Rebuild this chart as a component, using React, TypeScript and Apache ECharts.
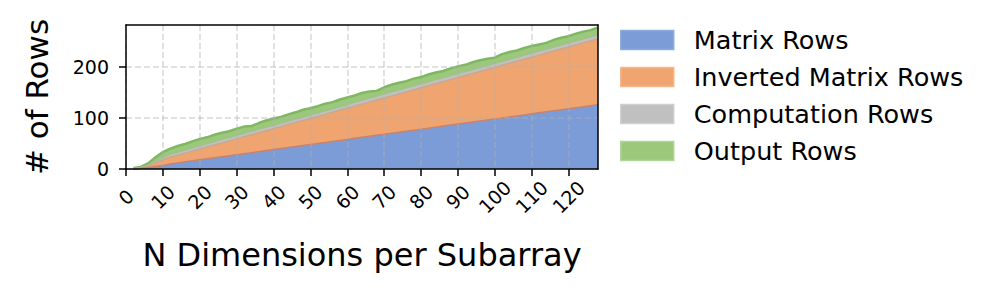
import React, { useEffect, useRef } from "react";
import * as echarts from "echarts";

// N dimensions (x) at which the stack is sampled
const xValues = [
  2, 4, 6, 8, 10, 12, 14, 16, 18, 20, 22, 24, 26, 28, 30, 32, 34, 36, 38, 40,
  42, 44, 46, 48, 50, 52, 54, 56, 58, 60, 62, 64, 66, 68, 70, 72, 74, 76, 78, 80,
  82, 84, 86, 88, 90, 92, 94, 96, 98, 100, 102, 104, 106, 108, 110, 112, 114, 116, 118, 120,
  122, 124, 126, 128,
];

const matrixRows = [
  0, 1, 3, 5, 7, 10, 12, 14, 16, 18, 20, 22, 24, 26, 28, 30, 32, 34, 36, 38,
  40, 42, 44, 46, 48, 50, 52, 54, 56, 58, 60, 62, 64, 66, 68, 70, 72, 74, 76, 78,
  80, 82, 84, 86, 88, 90, 92, 94, 96, 98, 100, 102, 104, 106, 108, 110, 112, 114, 116, 118,
  120, 122, 124, 126,
];

const invertedMatrixRows = [
  0, 1, 3, 7, 11, 13, 15, 17, 19, 21, 23, 25, 27, 29, 31, 33, 35, 37, 39, 41,
  43, 45, 47, 49, 51, 53, 55, 57, 59, 61, 63, 65, 67, 69, 71, 73, 75, 77, 79, 81,
  83, 85, 87, 89, 91, 93, 95, 97, 99, 101, 103, 105, 107, 109, 111, 113, 115, 117, 119, 121,
  123, 125, 127, 129,
];

const computationRows = [
  1, 1, 2, 4, 5, 6, 6, 6, 6, 7, 7, 7, 7, 7, 7, 7, 7, 7, 7, 7,
  7, 7, 7, 7, 7, 7, 7, 7, 7, 7, 8, 8, 8, 8, 8, 8, 8, 8, 8, 8,
  8, 8, 8, 8, 8, 8, 8, 8, 8, 8, 8, 8, 8, 8, 8, 8, 8, 8, 8, 8,
  8, 8, 8, 8,
];

const outputRows = [
  1, 1, 3, 7, 10, 11, 12, 12, 13, 13, 12, 13, 13, 12, 13, 13, 10, 12, 13, 13,
  12, 13, 13, 14, 13, 13, 14, 13, 14, 14, 13, 14, 13, 10, 13, 14, 14, 13, 14, 13,
  14, 14, 13, 14, 14, 13, 14, 14, 13, 11, 14, 14, 13, 14, 14, 13, 12, 14, 14, 13,
  14, 14, 13, 14,
];

const xTicks = [0, 10, 20, 30, 40, 50, 60, 70, 80, 90, 100, 110, 120];
const yTicks = [0, 100, 200];

const seriesNames = [
  "Matrix Rows",
  "Inverted Matrix Rows",
  "Computation Rows",
  "Output Rows",
];

const FONT = "DejaVu Sans";
const fills = ["#7b9cd7", "#f0a46f", "#c0c0c0", "#9cc87c"];
const edges = ["#c8836e", "#c9a88e", "#9fc286", "#7fb862"];
const legendBorders = ["#8fabe0", "#f5b88c", "#cfcfcf", "#b0d598"];

export default function App() {
  const ref = useRef<HTMLDivElement>(null);

  useEffect(() => {
    if (!ref.current) return;
    const chart = echarts.init(ref.current, null, { renderer: "svg" });
    const layers = [matrixRows, invertedMatrixRows, computationRows, outputRows];

    // cumulative stack (built from the layer arrays)
    const cumulative: number[][] = [];
    layers.forEach((arr, i) => {
      cumulative.push(arr.map((v, j) => v + (i > 0 ? cumulative[i - 1][j] : 0)));
    });

    const axisLineStyle = { color: "#000", width: 1.5 };
    const gridLine = {
      show: true,
      lineStyle: { color: "rgba(176,176,176,0.5)", type: [6, 3], width: 1.5 },
    };

    chart.setOption({
      animation: false,
      backgroundColor: "#fff",
      grid: { left: 126, right: 399, top: 25, bottom: 130, containLabel: false },
      legend: {
        orient: "vertical",
        left: 620,
        top: 27,
        padding: 0,
        itemWidth: 53,
        itemHeight: 19,
        itemGap: 11,
        icon: "rect",
        selectedMode: false,
        textStyle: {
          fontSize: 25.5,
          lineHeight: 25,
          color: "#000",
          fontFamily: FONT,
          padding: [0, 0, 0, 15],
        },
        data: seriesNames.map((n, i) => ({
          name: n,
          icon: "rect",
          itemStyle: { color: fills[i], borderColor: legendBorders[i], borderWidth: 1.5 },
        })),
      },
      xAxis: [
        {
          type: "value",
          min: 0,
          max: 128,
          interval: 10,
          position: "bottom",
          z: 10,
          axisLine: { show: true, onZero: false, lineStyle: axisLineStyle },
          axisTick: {
            show: true,
            length: 7,
            inside: false,
            customValues: xTicks,
            lineStyle: axisLineStyle,
          },
          axisLabel: {
            customValues: xTicks,
            rotate: 45,
            align: "center",
            verticalAlign: "middle",
            margin: 28,
            fontSize: 19,
            color: "#000",
            fontFamily: FONT,
          },
          splitLine: gridLine,
          name: "N Dimensions per Subarray",
          nameLocation: "middle",
          nameGap: 70,
          nameTextStyle: { fontSize: 32, color: "#000", fontFamily: FONT },
        },
        {
          type: "value",
          min: 0,
          max: 128,
          position: "top",
          z: 10,
          axisLine: { show: true, onZero: false, lineStyle: axisLineStyle },
          axisTick: { show: false },
          axisLabel: { show: false },
          splitLine: { show: false },
        },
      ],
      yAxis: [
        {
          type: "value",
          min: 0,
          max: 282,
          interval: 100,
          position: "left",
          z: 10,
          axisLine: { show: true, onZero: false, lineStyle: axisLineStyle },
          axisTick: {
            show: true,
            length: 7,
            inside: false,
            customValues: yTicks,
            lineStyle: axisLineStyle,
          },
          axisLabel: {
            customValues: yTicks,
            margin: 17,
            fontSize: 19,
            color: "#000",
            fontFamily: FONT,
          },
          splitLine: gridLine,
          name: "# of Rows",
          nameLocation: "middle",
          nameGap: 74,
          nameRotate: 90,
          nameTextStyle: { fontSize: 31, color: "#000", fontFamily: FONT },
        },
        {
          type: "value",
          min: 0,
          max: 282,
          position: "right",
          z: 10,
          axisLine: { show: true, onZero: false, lineStyle: axisLineStyle },
          axisTick: { show: false },
          axisLabel: { show: false },
          splitLine: { show: false },
        },
      ],
      // draw top layer first so that lower layers cover it (stacked look)
      series: layers.map((_, i) => ({
        type: "line",
        name: seriesNames[i],
        xAxisIndex: 0,
        yAxisIndex: 0,
        data: xValues.map((x, j) => [x, cumulative[i][j]]),
        showSymbol: false,
        symbol: "none",
        lineStyle: { color: edges[i], width: i === 3 ? 2.5 : 1.5 },
        areaStyle: { color: fills[i], opacity: 1, origin: "start" },
        itemStyle: { color: fills[i] },
      })).reverse().map((s, k) => ({ ...s, z: 2 + k * 0.1 })),
    });

    return () => chart.dispose();
  }, []);

  return (
    <div
      ref={ref}
      style={{ position: "fixed", left: 0, top: 0, width: 997, height: 299 }}
    />
  );
}
